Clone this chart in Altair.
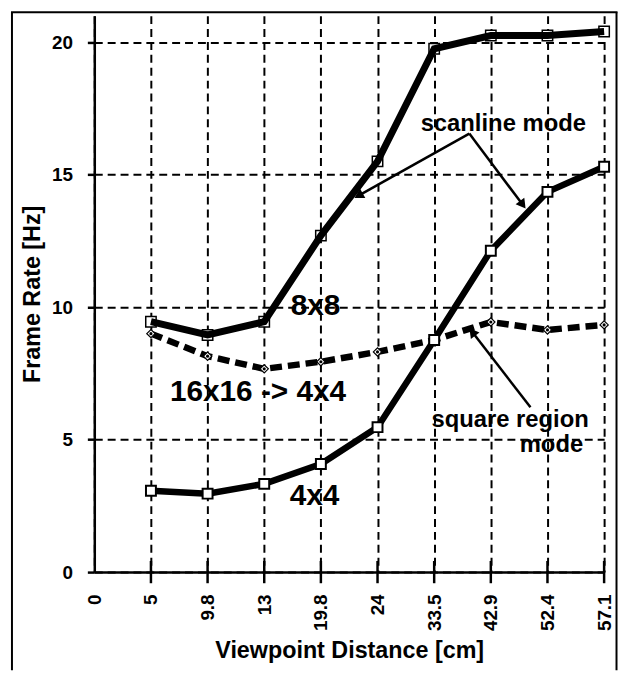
import altair as alt
import pandas as pd

# ---- data ----
x_labels = ["0", "5", "9.8", "13", "19.8", "24", "33.5", "42.9", "52.4", "57.1"]
x_index = [1, 2, 3, 4, 5, 6, 7, 8, 9]
rate_8x8 = [9.45, 8.95, 9.45, 12.7, 15.5, 19.75, 20.25, 20.25, 20.4]
rate_4x4 = [3.07, 2.96, 3.33, 4.08, 5.47, 8.76, 12.13, 14.35, 15.3]
rate_16to4 = [9.0, 8.15, 7.67, 7.94, 8.31, 8.76, 9.44, 9.14, 9.33]
y_ticks = [0, 5, 10, 15, 20]

# annotations (data coordinates: x index, frame rate)
ann_text = ["8x8", "16x16 -> 4x4", "4x4", "scanline mode", "square region", "mode"]
ann_x = [3.905, 2.89, 3.887, 7.22, 7.34, 8.07]
ann_y = [9.70, 6.44, 2.55, 16.63, 5.47, 4.53]
ann_size = [30, 30, 30, 24, 24, 24]

arrow_x = [6.62, 6.62, 7.70]
arrow_y = [16.55, 16.55, 6.22]
head_x = [4.665, 7.564, 6.673]
head_y = [14.21, 13.86, 9.06]
head_angle = [240.7, 143.1, 322.2]

FONT = "Liberation Sans"

label_expr = "[" + ",".join("'" + s + "'" for s in x_labels) + "][datum.value]"

x_enc = alt.X(
    "xi:Q",
    scale=alt.Scale(domain=[0, 9], nice=False, zero=False),
    axis=alt.Axis(
        values=list(range(len(x_labels))),
        labelExpr=label_expr,
        labelAngle=270,
        labelPadding=22,
        labelFlush=False,
        labelOverlap=False,
        ticks=False,
        title="Viewpoint Distance [cm]",
        titleY=67,
        titleBaseline="top",
    ),
)
y_enc = alt.Y(
    "yv:Q",
    scale=alt.Scale(domain=[0, 21], nice=False, zero=True),
    axis=alt.Axis(
        values=y_ticks,
        tickSize=7,
        labelPadding=15,
        labelFlush=False,
        title="Frame Rate [Hz]",
        titlePadding=7,
    ),
)

def series_df(vals):
    return pd.DataFrame({"xi": x_index, "yv": vals})

d8 = series_df(rate_8x8)
d4 = series_df(rate_4x4)
d16 = series_df(rate_16to4)

ticks_df = pd.DataFrame({"xi": x_index, "yv": [-0.42] * len(x_index), "yv2": [0.42] * len(x_index)})
tick_rules = alt.Chart(ticks_df).mark_rule(color="black", strokeWidth=2.5).encode(
    x=x_enc, y=y_enc, y2="yv2:Q"
)

# 8x8 scanline: markers under the thick line
pts8 = alt.Chart(d8).mark_point(shape="square", filled=True, fill="white", stroke="black",
                                strokeWidth=1.5, size=110, opacity=1).encode(x=x_enc, y=y_enc)
line8 = alt.Chart(d8).mark_line(color="black", strokeWidth=7).encode(x=x_enc, y=y_enc)

# 4x4 scanline
line4 = alt.Chart(d4).mark_line(color="black", strokeWidth=6.5).encode(x=x_enc, y=y_enc)
pts4 = alt.Chart(d4).mark_point(shape="square", filled=True, fill="white", stroke="black",
                                strokeWidth=2, size=100, opacity=1).encode(x=x_enc, y=y_enc)

# 16x16 -> 4x4 square region (dashed)
line16 = alt.Chart(d16).mark_line(color="black", strokeWidth=6.5, strokeDash=[12, 6]).encode(x=x_enc, y=y_enc)
pts16 = alt.Chart(d16).mark_point(shape="diamond", filled=True, fill="white", stroke="black",
                                  strokeWidth=1.2, size=70, opacity=1).encode(x=x_enc, y=y_enc)
dots16 = alt.Chart(d16).mark_point(shape="circle", filled=True, color="black", size=10,
                                   opacity=1).encode(x=x_enc, y=y_enc)

# annotation text
ann_df = pd.DataFrame({"xi": ann_x, "yv": ann_y, "t": ann_text, "fs": ann_size})
texts = alt.Chart(ann_df).mark_text(font=FONT, fontWeight="bold", color="black",
                                    align="center", baseline="alphabetic").encode(
    x=x_enc, y=y_enc, text="t:N", size=alt.Size("fs:Q", scale=None, legend=None)
)

# arrows
arr_df = pd.DataFrame({"xi": arrow_x, "yv": arrow_y, "xi2": head_x, "yv2": head_y})
arrows = alt.Chart(arr_df).mark_rule(color="black", strokeWidth=2.5).encode(
    x=x_enc, y=y_enc, x2="xi2:Q", y2="yv2:Q"
)
head_df = pd.DataFrame({"xi": head_x, "yv": head_y, "ang": head_angle})
heads = alt.Chart(head_df).mark_point(shape="triangle-up", filled=True, color="black",
                                      size=120, opacity=1).encode(
    x=x_enc, y=y_enc, angle=alt.Angle("ang:Q", scale=None)
)

# outer frame (decoration)
one = pd.DataFrame({"k": [0]})
frame_left = alt.Chart(one).mark_rule(color="black", strokeWidth=2).encode(
    x=alt.value(-83), y=alt.value(-3.5), y2=alt.value(660))
frame_right = alt.Chart(one).mark_rule(color="black", strokeWidth=2).encode(
    x=alt.value(526.5), y=alt.value(-3.5), y2=alt.value(660))
frame_top = alt.Chart(one).mark_rule(color="black", strokeWidth=2).encode(
    x=alt.value(-84), x2=alt.value(527.5), y=alt.value(-3.5))

chart = alt.layer(
    tick_rules, line16, pts16, dots16, pts8, line8, line4, pts4,
    arrows, heads, texts, frame_left, frame_right, frame_top,
).properties(
    width=514,
    height=561,
    padding={"left": 87, "top": 5, "right": 14, "bottom": 99},
    autosize=alt.AutoSizeParams(type="none"),
    background="white",
).configure_view(
    stroke="transparent"
).configure_axis(
    labelFont=FONT,
    labelFontSize=19,
    labelFontWeight="bold",
    labelColor="black",
    titleFont=FONT,
    titleFontSize=23.5,
    titleFontWeight="bold",
    titleColor="black",
    domainColor="black",
    domainWidth=2.5,
    tickColor="black",
    tickWidth=2.5,
    gridColor="black",
    gridWidth=2,
    gridDash=[8, 5],
    gridOpacity=1,
)

chart.save("out.html", embed_options={"renderer": "svg", "actions": False})
